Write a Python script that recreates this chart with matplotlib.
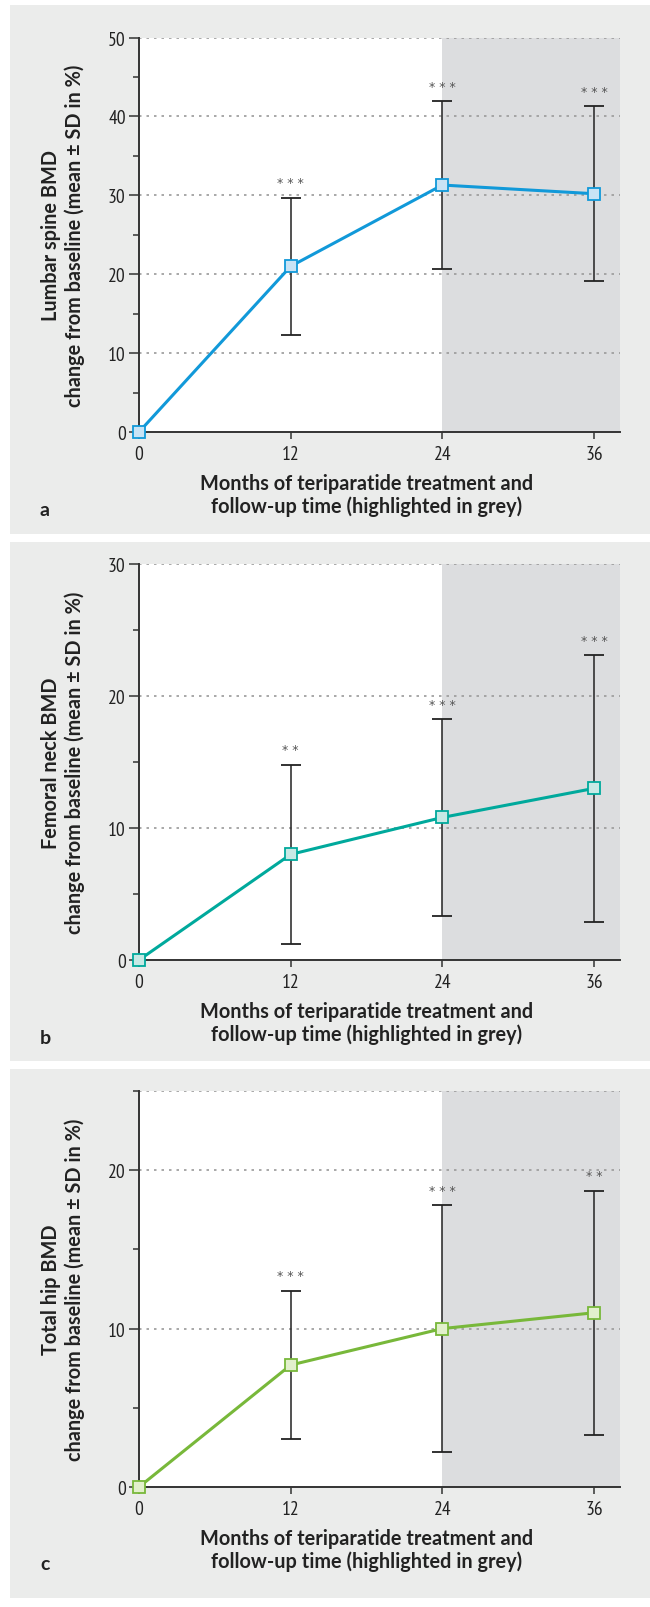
import matplotlib
matplotlib.use('Agg')
import matplotlib.pyplot as plt
from matplotlib import font_manager
from matplotlib.patches import Rectangle
from matplotlib.ticker import MultipleLocator

# Data
months = [0, 12, 24, 36]

spine_mean = [0, 21.0, 31.3, 30.2]
spine_sd = [0, 8.7, 10.6, 11.1]
spine_stars = ['', '* * *', '* * *', '* * *']

neck_mean = [0, 8.0, 10.8, 13.0]
neck_sd = [0, 6.8, 7.45, 10.1]
neck_stars = ['', '* *', '* * *', '* * *']

hip_mean = [0, 7.7, 10.0, 11.0]
hip_sd = [0, 4.7, 7.8, 7.7]
hip_stars = ['', '* * *', '* * *', '* *']

xlabel = 'Months of teriparatide treatment and\nfollow-up time (highlighted in grey)'

# box = (top px, bottom px) of the grey panel, ax = (top px, bottom px) of the plot
panels = [
    dict(mean=spine_mean, sd=spine_sd, stars=spine_stars, ymax=50, major=10,
         ylabel='Lumbar spine BMD\nchange from baseline (mean ± SD in %)',
         color='#1199d9', face='#c8e3f5', letter='a',
         box=(6, 535), ax=(38.5, 433)),
    dict(mean=neck_mean, sd=neck_sd, stars=neck_stars, ymax=30, major=10,
         ylabel='Femoral neck BMD\nchange from baseline (mean ± SD in %)',
         color='#00a99c', face='#c7e9e5', letter='b',
         box=(543, 1062), ax=(565, 961)),
    dict(mean=hip_mean, sd=hip_sd, stars=hip_stars, ymax=25, major=10,
         ylabel='Total hip BMD\nchange from baseline (mean ± SD in %)',
         color='#78b83a', face='#e2f0cc', letter='c',
         box=(1070, 1599), ax=(1092, 1488)),
]

# condensed face for the tick numbers if one is around
have = {f.name for f in font_manager.fontManager.ttflist}
fam = 'DejaVu Sans'
for cand in ['PT Sans Narrow', 'Roboto Condensed', 'Liberation Sans Narrow',
             'Open Sans Condensed', 'Sofia Sans Semi Condensed', 'Saira SemiCondensed']:
    if cand in have:
        fam = cand
        break
lab_fam = ['Lato', 'DejaVu Sans']
plt.rcParams['font.family'] = [fam, 'DejaVu Sans']

W, H = 650, 1608
X0, X36, XR = 139, 594, 620
fig = plt.figure(figsize=(W / 100, H / 100), dpi=100)
fig.patch.set_facecolor('white')

# size the axis titles so the long line is ~332 px wide, like the original
r = fig.canvas.get_renderer()
probe = fig.text(0, 0, xlabel.split('\n')[0], fontsize=13, fontweight='bold', family=lab_fam)
lab_size = 13 * 332 / probe.get_window_extent(r).width
probe.remove()

xmax = 36 * (XR - X0) / (X36 - X0)

for p in panels:
    top_px, bot_px = p['box']
    fig.patches.append(Rectangle((10 / W, 1 - bot_px / H), (W - 10) / W, (bot_px - top_px) / H,
                                 transform=fig.transFigure, facecolor='#ebeceb',
                                 edgecolor='none', zorder=-5))
    t_px, b_px = p['ax']
    ax = fig.add_axes([X0 / W, 1 - b_px / H, (XR - X0) / W, (b_px - t_px) / H])
    ax.set_facecolor('white')
    ax.set_xlim(0, xmax)
    ax.set_ylim(0, p['ymax'])
    ax.axvspan(24, xmax, color='#dcdddf', zorder=0, lw=0)

    # dotted grid
    for g in range(p['major'], p['ymax'] + 1, p['major']):
        ax.axhline(g, color='#9a9a9a', lw=1.2, ls=(0, (1.5, 3)), zorder=1)
    if p['ymax'] % p['major']:
        ax.axhline(p['ymax'], color='#9a9a9a', lw=1.2, ls=(0, (1.5, 3)), zorder=1)

    ax.errorbar(months[1:], p['mean'][1:], yerr=p['sd'][1:], fmt='none',
                ecolor='#222222', elinewidth=1.1, capsize=7, capthick=1.3, zorder=3)
    ax.plot(months, p['mean'], color=p['color'], lw=2.2, marker='s', markersize=8,
            markerfacecolor=p['face'], markeredgecolor=p['color'], markeredgewidth=1.3,
            zorder=6, clip_on=False)

    for m, mu, sd, st in zip(months, p['mean'], p['sd'], p['stars']):
        if st:
            ax.annotate(st, (m, mu + sd), xytext=(0, 6), textcoords='offset points',
                        ha='center', va='bottom', fontsize=9, color='#555555',
                        family='DejaVu Sans')

    for s in ['top', 'right']:
        ax.spines[s].set_visible(False)
    for s in ['left', 'bottom']:
        ax.spines[s].set_color('#333333')
        ax.spines[s].set_linewidth(1.4)
        ax.spines[s].set_zorder(5)

    ax.set_xticks(months)
    ax.yaxis.set_major_locator(MultipleLocator(p['major']))
    ax.yaxis.set_minor_locator(MultipleLocator(5))
    ax.tick_params(axis='both', which='major', width=1.1, color='#333333',
                   labelsize=14, labelcolor='#222222')
    ax.tick_params(axis='y', which='major', length=7, pad=2.5)
    ax.tick_params(axis='x', which='major', length=5, pad=4.5)
    ax.tick_params(axis='y', which='minor', length=4, width=1.1, color='#333333')

    yc = 1 - (t_px + b_px) / 2 / H
    fig.text(63 / W, yc, p['ylabel'], rotation=90, ha='center', va='center',
             multialignment='center', fontsize=lab_size, fontweight='bold',
             color='#222222', linespacing=1.25, family=lab_fam)
    fig.text((X0 + X36) / 2 / W, 1 - (b_px + 62.5) / H, xlabel, ha='center', va='center',
             multialignment='center', fontsize=lab_size, fontweight='bold',
             color='#222222', linespacing=1.15, family=lab_fam)
    fig.text(40 / W, 1 - (b_px + 77) / H, p['letter'], fontsize=14, fontweight='bold',
             color='#222222', ha='left', va='center', family=lab_fam)

fig.savefig('out.png', dpi=100)
